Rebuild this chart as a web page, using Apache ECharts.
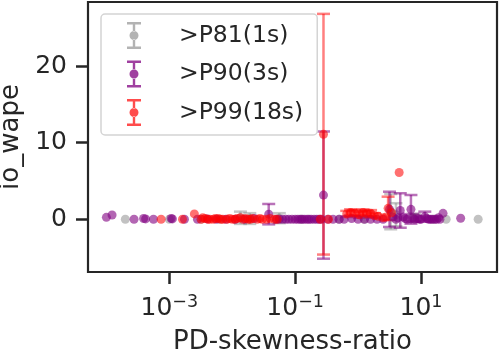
<!DOCTYPE html>
<html>
<head>
<meta charset="utf-8">
<script src="https://cdn.jsdelivr.net/npm/echarts@6/dist/echarts.min.js"></script>
<style>
  html, body { margin: 0; padding: 0; background: #fff; }
  #chart { width: 499px; height: 359px; }
</style>
</head>
<body>
<div id="chart"></div>
<script>
  // values (x is the PD-skewness-ratio, y is io_wape, err is the half bar)
  const greyX = [2.0e-4, 1.0e-3, 3.2e-3, 6.3e-3, 0.0135, 0.019, 0.056, 0.126, 0.5, 1.26, 3.3, 4.0, 7.9, 15.8, 25.1, 81]
  const greyY = [0, 0, 0, 0, 0.2, 0.1, 0.15, 0, 0, 0, 1.0, 0.6, 0.2, 0, 0, 0]
  const greyErr = [0, 0, 0, 0, 0.8, 0.7, 0.65, 0, 0, 0, 2.3, 1.5, 0.5, 0, 0, 0]

  const purpleX = [1.0e-4, 1.23e-4, 2.75e-4, 3.9e-4, 4.2e-4, 5.6e-4, 1.07e-3, 1.12e-3, 1.74e-3, 2.8e-3,
    4.0e-3, 5.6e-3, 7.9e-3, 0.0112, 0.0158, 0.0224, 0.038, 0.05, 0.063, 0.079,
    0.1, 0.12, 0.141, 0.166, 0.2, 0.24, 0.282, 0.33, 0.4, 0.5,
    0.6, 0.79, 1.0, 1.26, 1.58, 2.0, 2.5, 3.16, 3.55, 3.98,
    4.68, 5.25, 6.03, 6.92, 7.94, 8.91, 10, 11.5, 13.2, 15.1,
    17.8, 20, 22.4, 42.7,
    0.056, 0.071, 0.089, 0.11, 0.13, 0.155, 0.18, 0.22, 0.26, 4.3, 5.6, 7.4, 9.5, 12.3, 14.1, 16.6, 19.0]
  const purpleY = [0.26, 0.56, 0, 0.1, 0.05, 0, 0.1, 0.05, 0, 0,
    0.05, 0, 0, 0, 0, 0.1, 0.67, 0, 0, 0,
    0, 0, 0, 0, 0, 0, 3.16, 0, 0, 0,
    0, 0.1, 0, 0, 0, 0, 0, 1.3, 0.3, 0,
    1.15, 0.3, 0, 1.3, 0, 0.1, 0, 0.35, 0, 0,
    0, 0, 0.78, 0.13,
    0, 0, 0, 0, 0, 0, 0, 0, 0, 0.2, 0.1, 0.2, 0, 0.1, 0, 0, 0.2]
  const purpleErr = [0, 0, 0, 0, 0, 0, 0, 0, 0, 0,
    0, 0, 0, 0, 0, 0, 1.33, 0, 0, 0,
    0, 0, 0, 0, 0, 0, 8.3, 0, 0, 0,
    0, 0, 0, 0, 0, 0, 0, 2.3, 0, 0,
    2.25, 0, 0, 1.87, 0, 0, 0, 0.65, 0, 0,
    0, 0, 0, 0,
    0, 0, 0, 0, 0, 0, 0, 0, 0, 0, 0, 0.5, 0, 0, 0, 0, 0]

  const redX = [7.4e-4, 1.62e-3, 2.5e-3, 3.2e-3, 3.7e-3, 4.4e-3, 5.0e-3, 6.0e-3, 7.1e-3, 8.3e-3,
    0.01, 0.012, 0.0148, 0.0178, 0.0209, 0.0251, 0.03, 0.04, 0.047, 0.052,
    0.251, 0.282, 0.339, 0.66, 0.76, 0.89, 1.05, 1.2, 1.38, 1.58,
    1.82, 2.09, 2.5, 2.8, 3.0, 3.4, 4.5,
    3.4e-3, 4.1e-3, 5.4e-3, 6.6e-3, 9.1e-3, 0.011, 0.0135, 0.0163, 0.0195, 0.0275, 0.035]
  const redY = [0, 0, 0.7, 0, 0.1, 0, 0, 0.1, 0, 0,
    0, 0.1, 0, 0, 0.1, 0, 0, 0.1, 0, 0,
    0, 11.1, 0, 0.7, 0.9, 0.8, 0.6, 0.9, 0.7, 0.8,
    0.5, 0.4, 0.2, 0.3, 1.43, 0.86, 6.1,
    0.2, 0, 0.1, 0, 0.1, 0, 0.2, 0.1, 0, 0.1, 0]
  const redErr = [0, 0, 0, 0, 0, 0, 0, 0, 0, 0,
    0, 0, 0, 0, 0, 0, 0, 0, 0, 0,
    0, 15.7, 0, 0.4, 0.4, 0.4, 0.4, 0.4, 0.4, 0.4,
    0.3, 0, 0, 0, 1.52, 0, 0,
    0, 0, 0, 0, 0, 0, 0, 0, 0, 0, 0]

  const xTicks = [0.001, 0.1, 10]
  const yTicks = [0, 10, 20]
  const names = ['>P81(1s)', '>P90(3s)', '>P99(18s)']

  const groups = [
    { name: names[0], x: greyX, y: greyY, err: greyErr, dot: 'rgba(128,128,128,0.6)', bar: 'rgba(128,128,128,0.45)' },
    { name: names[1], x: purpleX, y: purpleY, err: purpleErr, dot: 'rgba(128,0,128,0.75)', bar: 'rgba(128,0,128,0.55)' },
    { name: names[2], x: redX, y: redY, err: redErr, dot: 'rgba(255,0,0,0.7)', bar: 'rgba(255,0,0,0.5)' }
  ]

  const ink = '#262626'
  const font = 'DejaVu Sans'
  // errorbar glyph for the legend: two caps, stem above and below, filled dot
  const legendIcon = 'path://M0,0H14V2.5H0Z M0,24.5H14V27H0Z M5.8,2.5H8.2V9.5H5.8Z M5.8,17.5H8.2V24.5H5.8Z M2.5,13.5A4.5,4.5 0 1,0 11.5,13.5A4.5,4.5 0 1,0 2.5,13.5Z'

  let series = []
  groups.forEach((g) => {
    let bars = []
    g.x.forEach((v, i) => {
      if (g.err[i] > 0) bars.push([v, g.y[i], g.err[i]])
    })
    series.push({
      name: g.name,
      type: 'custom',
      data: bars,
      z: 2,
      renderItem: (params, api) => {
        let x = api.value(0), y = api.value(1), e = api.value(2)
        let top = api.coord([x, y + e])
        let bot = api.coord([x, y - e])
        let style = { stroke: g.bar, lineWidth: 2.5 }
        return {
          type: 'group',
          children: [
            { type: 'line', shape: { x1: top[0], y1: top[1], x2: bot[0], y2: bot[1] }, style: style },
            { type: 'line', shape: { x1: top[0] - 6.5, y1: top[1], x2: top[0] + 6.5, y2: top[1] }, style: style },
            { type: 'line', shape: { x1: bot[0] - 6.5, y1: bot[1], x2: bot[0] + 6.5, y2: bot[1] }, style: style }
          ]
        }
      }
    })
    series.push({
      name: g.name,
      type: 'scatter',
      z: 3,
      symbolSize: 9,
      itemStyle: { color: g.dot },
      data: g.x.map((v, i) => [v, g.y[i]])
    })
  })

  let chart = echarts.init(document.getElementById('chart'))
  let option = {
    animation: false,
    color: groups.map((g) => g.dot),
    textStyle: { fontFamily: font, color: ink },
    grid: {
      left: 88, right: 2, top: 2, bottom: 87,
      outerBoundsMode: 'none',
      containLabel: false,
      show: true, borderColor: ink, borderWidth: 2.2, backgroundColor: '#fff'
    },
    legend: {
      orient: 'vertical',
      left: 101,
      top: 14,
      padding: [8, 14, 9, 26],
      itemGap: 11.5,
      itemWidth: 14,
      itemHeight: 27,
      backgroundColor: '#fff',
      borderColor: '#d4d4d4',
      borderWidth: 1.5,
      borderRadius: 4,
      data: names.map((n) => ({ name: n, icon: legendIcon })),
      textStyle: { fontFamily: font, fontSize: 23.5, color: ink, padding: [0, 0, 0, 33], lineHeight: 27 }
    },
    xAxis: {
      type: 'log',
      logBase: 10,
      min: 5.1e-5,
      max: 161.4,
      name: 'PD-skewness-ratio',
      nameLocation: 'middle',
      nameGap: 57,
      nameTextStyle: { fontFamily: font, fontSize: 26, color: ink },
      axisLine: { show: false, onZero: false },
      splitLine: { show: false },
      minorTick: { show: false },
      axisTick: { show: true, customValues: xTicks, length: 12, lineStyle: { color: ink, width: 2.5 } },
      axisLabel: {
        customValues: xTicks,
        margin: 21,
        formatter: (v) => '{b|10}{s|' + String(Math.round(Math.log10(v))).replace('-', '\u2212') + '}',
        rich: {
          b: { fontFamily: font, fontSize: 25, color: ink, verticalAlign: 'bottom', lineHeight: 28 },
          s: { fontFamily: font, fontSize: 17.5, color: ink, verticalAlign: 'top', lineHeight: 28 }
        }
      }
    },
    yAxis: {
      type: 'value',
      min: -6.875,
      max: 28.35,
      name: 'io_wape',
      nameLocation: 'middle',
      nameGap: 58,
      nameTextStyle: { fontFamily: font, fontSize: 26, color: ink },
      axisLine: { show: false, onZero: false },
      splitLine: { show: false },
      axisTick: { show: true, customValues: yTicks, length: 12, lineStyle: { color: ink, width: 2.5 } },
      axisLabel: { customValues: yTicks, margin: 21, fontFamily: font, fontSize: 25, color: ink }
    },
    series: series
  }
  chart.setOption(option)
</script>
</body>
</html>
